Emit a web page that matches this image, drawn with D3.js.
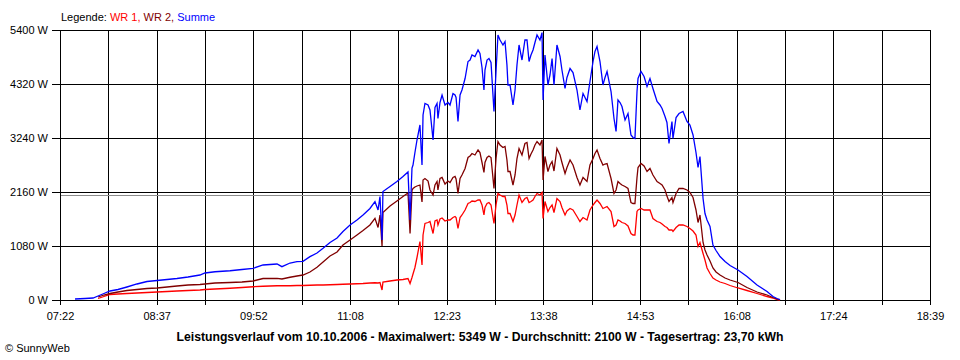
<!DOCTYPE html>
<html><head><meta charset="utf-8">
<script src="https://cdn.jsdelivr.net/npm/d3@7"></script>
<style>
html,body{margin:0;padding:0;background:#fff;}
svg{display:block;font-family:"Liberation Sans",Arial,sans-serif;}
</style></head><body>
<svg id="chart" width="960" height="360"></svg>
<script>
// Time of each sample, minutes since midnight
const times = [
453.7, 461.5, 467.7, 471.6, 476.2, 480.9, 487.1, 494.1, 501.9, 509.7,
517.5, 525.3, 533.0, 541.6, 550.9, 554.8, 562.6, 574.3, 583.6, 592.2,
600.0, 605.4, 610.9, 614.7, 621.0, 626.4, 631.1, 636.5, 642.0, 646.7,
652.1, 657.6, 662.2, 667.7, 673.1, 677.8, 683.2, 687.1, 689.5, 691.0,
692.6, 693.3, 698.8, 704.2, 708.9, 712.8, 714.4, 715.9, 716.7, 718.2,
719.8, 722.1, 723.7, 724.5, 726.0, 728.4, 729.9, 732.3, 733.8, 735.4,
736.1, 737.7, 739.3, 741.6, 743.9, 745.5, 747.8, 749.4, 750.2, 751.7,
753.3, 754.8, 757.2, 759.5, 761.1, 762.6, 764.9, 767.3, 768.8, 770.4,
771.9, 772.7, 774.3, 775.8, 777.4, 779.7, 781.3, 782.8, 784.4, 786.7,
788.3, 789.8, 790.6, 792.2, 794.5, 796.1, 797.6, 799.2, 801.5, 803.8,
805.4, 807.0, 808.5, 810.1, 811.6, 813.2, 815.5, 817.1, 817.9, 819.4,
821.7, 823.3, 824.9, 826.4, 828.7, 831.1, 832.6, 835.0, 836.5, 838.9,
841.2, 844.3, 846.6, 849.0, 852.1, 854.4, 856.8, 858.3, 859.9, 862.2,
864.5, 866.1, 867.7, 870.8, 873.1, 874.7, 876.2, 877.8, 879.3, 881.7,
884.0, 886.3, 887.9, 889.4, 891.0, 891.8, 894.1, 896.5, 898.8, 901.1,
903.4, 906.6, 908.9, 910.5, 912.8, 914.3, 915.9, 918.2, 919.0, 921.4,
923.7, 926.8, 929.9, 932.2, 934.6, 936.9, 938.5, 940.0, 942.4, 943.9,
945.5, 947.8, 950.1, 952.5, 955.6, 959.5, 963.4, 969.6, 976.6, 984.4,
992.2, 996.8, 999.9, 1002.3
];

// Summe (W)
const summe = [
20, 30, 40, 80, 130, 180, 210, 260, 320, 370,
390, 410, 430, 460, 500, 540, 565, 585, 610, 633,
700, 710, 720, 667, 740, 767, 773, 867, 940, 1033,
1150, 1240, 1370, 1500, 1600, 1700, 1830, 1967, 1800, 2070,
1200, 2170, 2270, 2370, 2470, 2560, 1600, 2640, 2700, 2950,
3200, 3500, 2700, 3700, 3930, 3900, 3800, 3200, 3850, 3930,
3630, 3950, 4100, 3900, 3950, 3900, 4130, 4100, 4050, 3570,
4100, 4200, 4430, 4770, 4800, 4900, 4870, 5000, 4930, 4650,
4200, 4600, 4800, 4830, 4750, 3770, 4570, 5300, 5200, 5100,
5170, 4700, 4300, 4300, 3900, 4200, 4700, 5100, 4800, 5200,
5200, 4770, 4900, 5000, 5150, 5300, 5200, 5349, 4000, 4900,
4300, 4500, 4830, 4300, 5100, 4870, 4600, 4230, 4450, 4630,
4550, 4200, 3800, 4130, 3970, 4370, 4770, 4970, 5070, 4770,
4300, 4450, 4570, 4170, 3630, 3370, 4000, 3950, 3870, 3600,
3730, 3300, 3250, 3230, 4170, 4430, 4570, 4470, 4270, 4430,
4230, 3970, 3900, 3830, 3670, 3550, 3130, 3570, 3230, 3650,
3730, 3770, 3570, 3500, 3300, 2950, 2650, 2870, 2030, 1730,
1600, 1470, 1100, 990, 870, 770, 690, 600, 470, 300,
170, 70, 30, 10
];

// WR 1 (W)
const wr1 = [
null, null, null, 30, 70, 110, 120, 130, 140, 150,
160, 170, 180, 190, 200, 210, 220, 235, 250, 265,
275, 280, 285, 285, 285, 290, 290, 295, 300, 300,
305, 310, 315, 320, 325, 330, 340, 345, 340, 350,
200, 360, 380, 400, 410, 430, 330, 450, 520, 650,
850, 1170, 700, 1300, 1530, 1550, 1570, 1330, 1580, 1600,
1500, 1620, 1640, 1580, 1600, 1600, 1650, 1670, 1650, 1430,
1650, 1700, 1800, 1930, 1950, 1980, 1970, 2000, 2000, 1900,
1700, 1850, 1930, 1950, 1900, 1530, 1900, 2130, 2100, 2070,
2070, 1900, 1730, 1730, 1570, 1700, 1900, 2100, 1950, 2030,
2050, 1950, 1970, 2000, 2070, 2130, 2100, 2150, 1630, 1970,
1770, 1850, 1900, 1750, 2030, 1970, 1850, 1700, 1780, 1830,
1800, 1670, 1570, 1650, 1600, 1800, 1900, 1950, 2000, 1930,
1830, 1850, 1870, 1770, 1470, 1500, 1600, 1580, 1550, 1530,
1480, 1330, 1300, 1300, 1770, 1800, 1830, 1800, 1800, 1800,
1630, 1570, 1550, 1520, 1470, 1450, 1400, 1400, 1370, 1450,
1500, 1500, 1470, 1430, 1380, 1300, 1070, 1150, 930, 800,
640, 530, 440, 400, 360, 330, 290, 240, 190, 130,
70, 40, 10, 0
];

// WR 2 (W)
const wr2 = [
null, null, null, 60, 100, 130, 160, 190, 210, 230,
240, 260, 280, 300, 310, 320, 340, 350, 360, 380,
430, 430, 433, 420, 455, 480, 500, 560, 653, 760,
880, 960, 1100, 1200, 1300, 1390, 1500, 1633, 1450, 1700,
1080, 1750, 1880, 1980, 2070, 2140, 1330, 2190, 2230, 2260,
2280, 2300, 1960, 2400, 2430, 2380, 2200, 2100, 2300, 2370,
2200, 2430, 2450, 2320, 2380, 2350, 2450, 2470, 2420, 2130,
2430, 2500, 2630, 2850, 2880, 2930, 2900, 3000, 2950, 2750,
2550, 2750, 2850, 2880, 2850, 2230, 2830, 3170, 3100, 3050,
3070, 2800, 2570, 2570, 2300, 2500, 2830, 3030, 2900, 3130,
3150, 2830, 2920, 3000, 3100, 3170, 3100, 3200, 2400, 2870,
2570, 2700, 2770, 2580, 3030, 2900, 2750, 2530, 2650, 2800,
2700, 2450, 2300, 2450, 2370, 2700, 2830, 2930, 3000, 2830,
2700, 2720, 2730, 2430, 2130, 2200, 2370, 2330, 2300, 2270,
2230, 1950, 1930, 1930, 2450, 2650, 2730, 2680, 2570, 2630,
2500, 2370, 2330, 2300, 2200, 2080, 1970, 2050, 1950, 2130,
2230, 2230, 2200, 2150, 2050, 1800, 1550, 1700, 1150, 1000,
900, 780, 640, 560, 500, 440, 400, 350, 250, 160,
100, 50, 20, 0
];

const yTicks = [0, 1080, 2160, 3240, 4320, 5400];
const timeLabels = ["07:22", "08:37", "09:52", "11:08", "12:23", "13:38", "14:53", "16:08", "17:24", "18:39"];
const seriesNames = ["WR 1", "WR 2", "Summe"];
const seriesColors = ["#ff0000", "#800000", "#0000ff"];
const average = 2100;
const caption = "Leistungsverlauf vom 10.10.2006 - Maximalwert: 5349 W - Durchschnitt: 2100 W - Tagesertrag: 23,70 kWh";
const copyright = "\u00A9 SunnyWeb";

const svg = d3.select("#chart");
const L = 60, R = 930, T = 30, B = 300;

function toMin(s) { const p = s.split(":").map(Number); return p[0] * 60 + p[1]; }
const t0 = toMin(timeLabels[0]), t1 = toMin(timeLabels[timeLabels.length - 1]);
const x = d3.scaleLinear().domain([t0, t1]).range([L, R]);
const y = d3.scaleLinear().domain([0, 5400]).range([B, T]);
const nInt = 2 * (timeLabels.length - 1);
const tickVals = d3.range(nInt + 1).map(i => t0 + i * (t1 - t0) / nInt);

// grid
const grid = svg.append("g").attr("shape-rendering", "crispEdges").attr("stroke", "#000").attr("stroke-width", 1);
tickVals.forEach(v => {
  const px = Math.round(x(v)) + 0.5;
  grid.append("line").attr("x1", px).attr("x2", px).attr("y1", T).attr("y2", B);
});
yTicks.forEach(v => {
  const py = Math.round(y(v)) + 0.5;
  grid.append("line").attr("x1", L).attr("x2", R + 1).attr("y1", py).attr("y2", py);
});

// axes
const yAxis = svg.append("g").attr("transform", `translate(${L},0)`)
  .call(d3.axisLeft(y).tickValues(yTicks).tickSize(8).tickSizeOuter(0).tickPadding(4).tickFormat(d => d + " W"));
const xAxis = svg.append("g").attr("transform", `translate(0,${B})`)
  .call(d3.axisBottom(x).tickValues(tickVals).tickSize(5).tickSizeOuter(0).tickPadding(7)
    .tickFormat((d, i) => i % 2 === 0 ? timeLabels[i / 2] : ""));
[yAxis, xAxis].forEach(a => {
  a.selectAll("path,line").attr("stroke", "#000").attr("shape-rendering", "crispEdges");
  a.selectAll("text").attr("fill", "#000").attr("font-size", 11)
    .attr("font-family", "'Liberation Sans', Arial, sans-serif");
});

// average line
svg.append("line").attr("x1", L + 1).attr("x2", R).attr("y1", Math.round(y(average)) + 0.5).attr("y2", Math.round(y(average)) + 0.5)
  .attr("stroke", "#8c8c8c").attr("stroke-width", 1).attr("shape-rendering", "crispEdges");

// series
const allSeries = [wr1, wr2, summe];
const line = d3.line().defined(d => d.v != null && !isNaN(d.v)).x(d => x(d.t)).y(d => y(d.v));
allSeries.forEach((vals, k) => {
  const data = times.map((t, i) => ({ t: t, v: vals[i] }));
  svg.append("path").datum(data).attr("d", line)
    .attr("fill", "none").attr("stroke", seriesColors[k]).attr("stroke-width", 1.3)
    .attr("stroke-linejoin", "miter");
});

// legend
const leg = svg.append("text").attr("x", 61).attr("y", 20.5).attr("font-size", 11);
leg.append("tspan").attr("fill", "#000").text("Legende: ");
seriesNames.forEach((n, k) => {
  leg.append("tspan").attr("fill", seriesColors[k]).text(n + (k < seriesNames.length - 1 ? ", " : ""));
});

// caption
svg.append("text").attr("x", 480).attr("y", 341).attr("text-anchor", "middle")
  .attr("font-size", 12).attr("font-weight", "bold").attr("fill", "#000")
  .attr("textLength", 607).attr("lengthAdjust", "spacingAndGlyphs").text(caption);

svg.append("text").attr("x", 5).attr("y", 352).attr("font-size", 11).attr("fill", "#000").text(copyright);
</script>
</body></html>
